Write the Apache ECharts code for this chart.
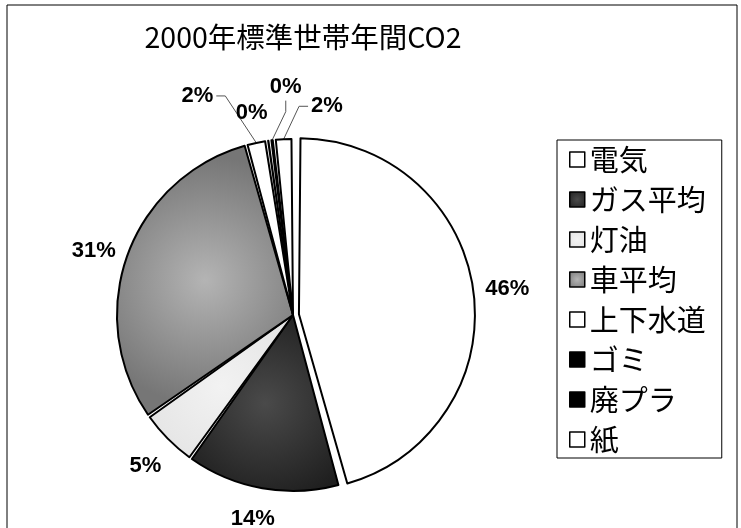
<!DOCTYPE html>
<html>
<head>
<meta charset="utf-8">
<script src="https://cdn.jsdelivr.net/npm/echarts@6/dist/echarts.min.js"></script>
<style>
html, body { margin: 0; padding: 0; background: #fff; }
#main { width: 741px; height: 528px; }
</style>
</head>
<body>
<div id="main"></div>
<script>
var titleText = '2000年標準世帯年間CO2';
var categories = ['電気', 'ガス平均', '灯油', '車平均', '上下水道', 'ゴミ', '廃プラ', '紙'];
var values = [45.8, 14.2, 5.4, 30.5, 1.9, 0.3, 0.4, 1.7];

// look of each slice (inner / outer shade, the print was dithered)
var fillInner = ['#ffffff', '#4a4a4a', '#f2f2f2', '#b4b4b4', '#ffffff', '#000000', '#000000', '#ffffff'];
var fillOuter = ['#ffffff', '#1e1e1e', '#e2e2e2', '#767676', '#ffffff', '#000000', '#000000', '#ffffff'];
var lineShow = [false, false, false, false, true, false, true, true];
var lineLen = [8, 8, 8, 8, 48, 27, 54, 33];
var lineLen2 = [0, 0, 0, 0, 30, 0, 0, 0];
// small nudges of the labels, as in the original hand-placed layout
var nudgeX = [1, 17, 2, -1, 0, 6, 39, 64];
var nudgeY = [-1, 23, 21, -2, 0, -1, 0, 0];
// which side of the label its leader line enters from
var lineSide = ['', '', '', '', 'right', '', 'bottom', 'left'];

function buildData() {
    var data = [];
    for (var i = 0; i < categories.length; i++) {
        data.push({
            name: categories[i],
            value: values[i],
            selected: i === 0,
            itemStyle: {
                color: {
                    type: 'radial', x: 0.5, y: 0.5, r: 0.7,
                    colorStops: [
                        { offset: 0, color: fillInner[i] },
                        { offset: 1, color: fillOuter[i] }
                    ]
                }
            },
            labelLine: { show: lineShow[i], length: lineLen[i], length2: lineLen2[i] }
        });
    }
    return data;
}

function layoutLabel(params) {
    var i = params.dataIndex;
    var out = { dx: nudgeX[i], dy: nudgeY[i] };
    var r = params.labelRect;
    var pts = params.labelLinePoints;
    if (!pts || !lineSide[i]) return out;
    var left = r.x + nudgeX[i], top = r.y + nudgeY[i];
    var cy = top + r.height / 2, cx = left + r.width / 2;
    if (lineSide[i] === 'left') {
        out.labelLinePoints = [pts[0], [left - 12, cy], [left - 3, cy]];
    } else if (lineSide[i] === 'right') {
        out.labelLinePoints = [pts[0], [left + r.width + 12, cy], [left + r.width + 3, cy]];
    } else {
        out.labelLinePoints = [pts[0], [cx, top + r.height + 14], [cx, top + r.height + 3]];
    }
    return out;
}

var chart = echarts.init(document.getElementById('main'));
var option = {
    backgroundColor: '#fff',
    animation: false,
    title: {
        text: titleText,
        left: 298,
        textAlign: 'center',
        top: 18,
        textStyle: {
            fontFamily: 'Noto Sans CJK JP',
            fontSize: 28.5,
            fontWeight: 'normal',
            color: '#000'
        }
    },
    legend: {
        orient: 'vertical',
        left: 557,
        top: 140,
        padding: [5, 16, 4, 12],
        borderColor: '#000',
        borderWidth: 1,
        icon: 'rect',
        itemWidth: 15,
        itemHeight: 15,
        itemGap: 11,
        itemTextGap: 14,
        selectedMode: false,
        itemStyle: { borderColor: '#000', borderWidth: 1.5 },
        textStyle: {
            fontFamily: 'Noto Sans CJK JP',
            fontSize: 29,
            lineHeight: 28,
            color: '#000'
        },
        data: categories
    },
    graphic: [{
        type: 'rect',
        shape: { x: 7, y: 5, width: 730, height: 540 },
        style: { fill: 'none', stroke: '#000', lineWidth: 1 },
        silent: true
    }],
    series: [{
        type: 'pie',
        center: [293, 315],
        radius: [0, 176],
        startAngle: 90,
        clockwise: true,
        padAngle: 1,
        percentPrecision: 0,
        selectedMode: 'single',
        selectedOffset: 6,
        avoidLabelOverlap: false,
        itemStyle: { borderColor: '#000', borderWidth: 2 },
        label: {
            position: 'outside',
            formatter: '{d}%',
            fontFamily: 'Liberation Sans',
            fontSize: 22,
            fontWeight: 'bold',
            color: '#000',
            distanceToLabelLine: 3
        },
        labelLine: {
            lineStyle: { color: '#555', width: 1 }
        },
        labelLayout: layoutLabel,
        emphasis: { disabled: true },
        data: buildData()
    }]
};
chart.setOption(option);
</script>
</body>
</html>
